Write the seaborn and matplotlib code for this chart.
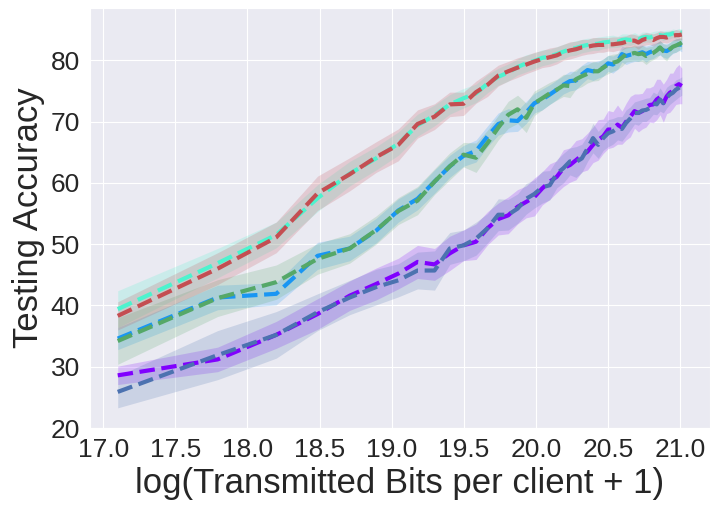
import numpy as np
import pandas as pd
import matplotlib
matplotlib.use("Agg")
import matplotlib.pyplot as plt
import seaborn as sns

# x: log(Transmitted Bits per client + 1), one value per communication round
log_bits = [17.100, 17.793, 18.199, 18.486, 18.709, 18.892, 19.046, 19.179, 19.297, 19.403,
            19.498, 19.585, 19.665, 19.739, 19.808, 19.873, 19.933, 19.990, 20.044, 20.096,
            20.145, 20.191, 20.236, 20.278, 20.319, 20.358, 20.396, 20.432, 20.467, 20.501,
            20.534, 20.566, 20.597, 20.626, 20.655, 20.684, 20.711, 20.738, 20.764, 20.789,
            20.814, 20.838, 20.861, 20.884, 20.907, 20.929, 20.950, 20.971, 20.992, 21.012]

# mean testing accuracy per series
acc_cyan = [39.4, 46.9, 51.5, 57.5, 61.5, 64.0, 66.4, 69.4, 71.0, 72.8,
            73.8, 74.6, 76.2, 77.3, 78.0, 78.9, 79.5, 79.9, 80.4, 80.6,
            81.0, 81.4, 81.8, 82.0, 82.3, 82.5, 82.6, 82.7, 82.9, 83.0,
            83.1, 83.0, 83.3, 83.4, 83.3, 83.6, 83.4, 83.7, 83.8, 83.7,
            83.9, 84.0, 84.1, 84.0, 84.2, 84.2, 84.4, 84.3, 84.5, 84.5]
acc_red = [38.3, 46.0, 51.1, 58.3, 61.4, 64.2, 66.2, 69.6, 70.8, 72.8,
           72.9, 74.8, 76.0, 77.5, 78.2, 78.8, 79.3, 79.8, 80.2, 80.5,
           80.8, 81.3, 81.6, 81.8, 82.1, 82.2, 82.4, 82.5, 82.5, 82.6,
           82.6, 82.7, 82.8, 83.0, 83.2, 83.2, 82.9, 83.3, 83.5, 83.5,
           83.3, 83.6, 83.8, 83.8, 83.7, 83.9, 84.0, 84.1, 84.1, 84.2]
acc_blue = [34.6, 41.3, 41.9, 48.1, 49.3, 52.2, 55.5, 57.4, 60.2, 62.7,
            64.4, 65.2, 67.6, 69.6, 70.2, 70.1, 71.5, 73.0, 73.6, 74.4,
            75.2, 76.0, 76.6, 76.7, 77.7, 78.4, 78.2, 78.5, 78.8, 79.5,
            79.3, 79.8, 81.0, 80.7, 80.9, 81.0, 81.1, 81.3, 81.0, 81.3,
            81.5, 81.8, 82.0, 81.6, 81.5, 81.8, 82.2, 82.4, 82.6, 82.5]
acc_green = [34.2, 41.2, 43.8, 47.6, 49.3, 52.3, 55.4, 57.1, 60.2, 62.7,
             64.6, 64.1, 66.5, 69.0, 71.1, 72.0, 70.6, 73.0, 73.8, 74.6,
             75.2, 75.9, 75.8, 76.9, 77.4, 77.8, 78.2, 78.2, 78.8, 79.3,
             79.6, 79.8, 80.4, 81.0, 81.0, 81.2, 81.0, 81.1, 80.7, 81.0,
             81.2, 81.6, 82.1, 81.5, 81.2, 81.8, 82.2, 82.4, 82.6, 82.9]
acc_purple = [28.6, 31.2, 35.2, 38.6, 41.6, 43.5, 45.2, 47.1, 46.7, 48.5,
              49.8, 50.4, 52.6, 54.1, 54.7, 56.1, 56.9, 57.7, 59.1, 60.2,
              61.0, 62.4, 62.9, 63.7, 64.5, 65.1, 66.2, 67.0, 67.6, 68.7,
              68.7, 69.5, 69.0, 70.0, 70.8, 71.7, 71.4, 71.7, 72.3, 72.7,
              72.8, 73.6, 74.0, 73.0, 74.1, 74.7, 75.0, 75.8, 76.1, 75.8]
acc_steel = [25.9, 31.9, 35.2, 38.9, 41.3, 43.0, 44.1, 45.7, 45.7, 49.3,
             49.8, 50.9, 52.6, 54.8, 54.8, 55.8, 57.4, 58.2, 59.3, 59.6,
             61.5, 62.4, 63.5, 63.4, 64.0, 65.6, 67.3, 66.2, 67.3, 68.1,
             68.4, 68.9, 68.8, 69.8, 70.5, 71.4, 71.4, 71.8, 71.9, 72.2,
             73.0, 72.8, 73.6, 73.0, 73.9, 74.4, 74.7, 75.2, 75.5, 75.8]

# half-width of the shaded confidence band per series
band_cyan = [3.0, 2.4, 2.1, 2.2, 2.0, 1.9, 1.9, 1.8, 1.7, 1.6, 1.6, 1.5, 1.5, 1.4, 1.4, 1.3, 1.4, 1.3, 1.3, 1.2,
             1.2, 1.2, 1.1, 1.2, 1.1, 1.1, 1.0, 1.1, 1.0, 1.0, 1.0, 0.9, 1.0, 0.9, 0.9, 0.9, 0.8, 0.9, 0.8, 0.8,
             0.8, 0.8, 0.7, 0.8, 0.7, 0.7, 0.7, 0.7, 0.7, 0.6]
band_red = [2.3, 2.6, 2.5, 2.8, 2.7, 2.5, 2.6, 2.3, 2.1, 2.0, 1.9, 1.8, 1.9, 1.7, 1.6, 1.6, 1.5, 1.5, 1.4, 1.5,
            1.4, 1.3, 1.4, 1.3, 1.3, 1.2, 1.3, 1.2, 1.2, 1.1, 1.2, 1.1, 1.1, 1.0, 1.1, 1.0, 1.1, 1.0, 1.0, 0.9,
            1.0, 0.9, 1.0, 0.9, 0.9, 0.9, 0.8, 0.9, 0.8, 0.8]
band_blue = [1.8, 2.0, 1.8, 2.2, 2.0, 2.0, 1.9, 1.8, 1.9, 1.8, 1.7, 1.8, 1.7, 1.8, 1.9, 1.7, 1.8, 1.6, 1.7, 1.6,
             1.6, 1.5, 1.6, 1.5, 1.5, 1.4, 1.5, 1.4, 1.4, 1.3, 1.4, 1.3, 1.3, 1.4, 1.3, 1.2, 1.3, 1.2, 1.3, 1.2,
             1.2, 1.1, 1.2, 1.1, 1.2, 1.1, 1.1, 1.1, 1.0, 1.1]
band_green = [3.8, 3.0, 2.8, 2.5, 2.4, 2.3, 2.2, 2.3, 2.1, 2.2, 2.0, 2.4, 2.1, 2.0, 2.2, 2.3, 2.4, 2.0, 1.9, 1.8,
              1.7, 1.8, 1.9, 1.6, 1.7, 1.5, 1.6, 1.5, 1.4, 1.5, 1.4, 1.3, 1.4, 1.3, 1.2, 1.3, 1.2, 1.3, 1.4, 1.2,
              1.1, 1.2, 1.1, 1.2, 1.3, 1.1, 1.0, 1.1, 1.0, 1.0]
band_purple = [1.5, 2.0, 2.2, 2.5, 2.4, 2.6, 2.5, 2.7, 2.6, 2.8, 2.5, 2.9, 2.7, 2.6, 3.0, 2.8, 2.6, 3.1, 2.7, 2.9,
               2.6, 3.0, 2.8, 3.2, 2.7, 3.0, 2.9, 3.3, 2.8, 3.1, 2.9, 3.2, 2.7, 3.0, 3.3, 2.8, 3.1, 2.9, 3.2, 2.8,
               3.0, 3.3, 2.9, 3.1, 2.8, 3.2, 2.9, 3.0, 3.2, 2.9]
band_steel = [2.6, 4.0, 3.8, 3.0, 2.8, 2.9, 2.7, 3.0, 3.2, 2.6, 2.5, 2.7, 2.4, 2.6, 2.5, 2.4, 2.5, 2.3, 2.6, 2.4,
              2.3, 2.4, 2.2, 2.5, 2.3, 2.1, 2.4, 2.2, 2.0, 2.2, 2.1, 1.9, 2.0, 2.1, 1.9, 1.8, 2.0, 1.8, 1.9, 1.7,
              1.8, 1.7, 1.9, 1.6, 1.7, 1.6, 1.5, 1.6, 1.5, 1.5]

sns.set_style("darkgrid")
plt.rcParams['font.family'] = ['Liberation Sans', 'DejaVu Sans']

rainbow = plt.cm.rainbow
deep = sns.color_palette("deep")
series = [
    (acc_purple, band_purple, rainbow(0.0)),
    (acc_blue, band_blue, rainbow(0.2)),
    (acc_cyan, band_cyan, rainbow(0.4)),
    (acc_steel, band_steel, deep[0]),
    (acc_green, band_green, deep[2]),
    (acc_red, band_red, deep[3]),
]

fig, ax = plt.subplots(figsize=(7.19, 5.09), dpi=100)
fig.subplots_adjust(left=0.1245, right=0.9875, top=0.984, bottom=0.159)

x = np.array(log_bits)
for acc, band, col in series:
    y = np.array(acc)
    w = np.array(band)
    df = pd.DataFrame({"x": x, "y": y})
    sns.lineplot(data=df, x="x", y="y", color=col, linestyle="--", linewidth=3, ax=ax)
    ax.fill_between(x, y - w, y + w, color=col, alpha=0.2, linewidth=0)

ax.set_ylim(20, 88.5)
ax.set_xticks([17.0, 17.5, 18.0, 18.5, 19.0, 19.5, 20.0, 20.5, 21.0])
ax.set_xlabel("log(Transmitted Bits per client + 1)", fontsize=25)
ax.set_ylabel("Testing Accuracy", fontsize=25)
ax.tick_params(labelsize=19)

fig.savefig("out.png", dpi=100)
